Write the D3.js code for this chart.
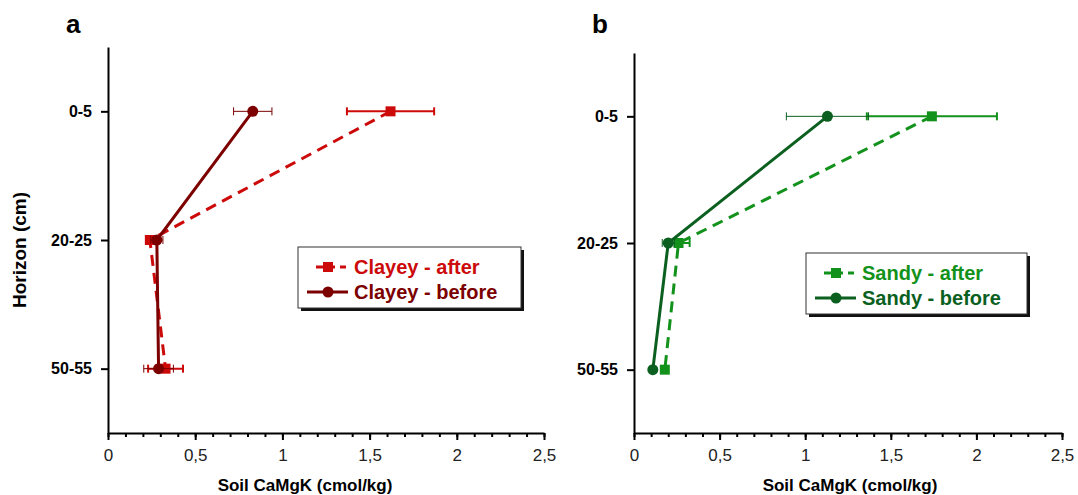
<!DOCTYPE html>
<html>
<head>
<meta charset="utf-8">
<script src="https://cdn.jsdelivr.net/npm/d3@7"></script>
<style>
  body { margin: 0; background: #fff; }
  svg { display: block; font-family: "Liberation Sans", Arial, Helvetica, sans-serif; }
</style>
</head>
<body>
<div id="chart"></div>
<script>
// horizons (depth classes), top to bottom
const horizons = ['0-5', '20-25', '50-55'];
const xTicks = [0, 0.5, 1, 1.5, 2, 2.5];

// panel a - clayey soil
const clayeyAfter = [1.62, 0.24, 0.33];
const clayeyAfterErr = [0.25, 0.02, 0.10];
const clayeyBefore = [0.83, 0.28, 0.29];
const clayeyBeforeErr = [0.11, 0.035, 0.085];

// panel b - sandy soil
const sandyAfter = [1.74, 0.26, 0.18];
const sandyAfterErr = [0.38, 0.065, 0.015];
const sandyBefore = [1.13, 0.20, 0.11];
const sandyBeforeErr = [0.24, 0.035, 0.01];

const panels = [
  {letter: 'a', x0: 108, x1: 544, yTop: 47, yBot: 433, yTitle: true, titleX: 305,
   legend: {x: 298, y: 247, w: 223, h: 61},
   series: [
     {name: 'Clayey - after', values: clayeyAfter, err: clayeyAfterErr, color: '#cc0a0a', dashed: true, marker: 'square'},
     {name: 'Clayey - before', values: clayeyBefore, err: clayeyBeforeErr, color: '#7c0000', dashed: false, marker: 'circle'}
   ]},
  {letter: 'b', x0: 634, x1: 1062, yTop: 53, yBot: 433, yTitle: false, titleX: 850,
   legend: {x: 806, y: 253, w: 221, h: 61},
   series: [
     {name: 'Sandy - after', values: sandyAfter, err: sandyAfterErr, color: '#13921b', dashed: true, marker: 'square'},
     {name: 'Sandy - before', values: sandyBefore, err: sandyBeforeErr, color: '#0b5f1f', dashed: false, marker: 'circle'}
   ]}
];

const svg = d3.select('#chart').append('svg')
  .attr('width', 1078)
  .attr('height', 495);

function drawMarker(g, type, x, y, color) {
  if (type === 'square') {
    g.append('rect')
      .attr('x', x - 5).attr('y', y - 5)
      .attr('width', 10).attr('height', 10)
      .attr('fill', color);
  } else {
    g.append('circle')
      .attr('cx', x).attr('cy', y).attr('r', 5.5)
      .attr('fill', color);
  }
}

panels.forEach(p => {
  const g = svg.append('g');

  const xScale = d3.scaleLinear().domain([0, 2.5]).range([p.x0, p.x1]);
  // categories at 1,2,3 with half a step of space at both ends
  const yScale = d3.scaleLinear().domain([0.5, 3.5]).range([p.yTop, p.yBot]);
  const yPos = i => yScale(i + 1);

  // minor ticks every 0.1
  const minorAxis = d3.axisBottom(xScale)
    .tickValues(d3.range(0, 26).map(d => d / 10))
    .tickSize(4)
    .tickFormat('');
  const minorG = g.append('g')
    .attr('transform', `translate(0,${p.yBot})`)
    .call(minorAxis);
  minorG.select('.domain').remove();
  minorG.selectAll('line').attr('stroke', '#000').attr('stroke-width', 2);

  // major ticks with labels
  const xAxis = d3.axisBottom(xScale)
    .tickValues(xTicks)
    .tickSize(7)
    .tickSizeOuter(0)
    .tickPadding(9)
    .tickFormat(d => d3.format('')(d).replace('.', ','));
  const xAxisG = g.append('g')
    .attr('transform', `translate(0,${p.yBot})`)
    .call(xAxis);
  xAxisG.select('.domain').attr('stroke', '#000').attr('stroke-width', 2);
  xAxisG.selectAll('line').attr('stroke', '#000').attr('stroke-width', 2);
  xAxisG.selectAll('text')
    .attr('fill', '#222')
    .style('font-size', '17px')
    .style('font-family', '"Liberation Sans", Arial, sans-serif');

  // y axis with horizon labels
  const yAxis = d3.axisLeft(yScale)
    .tickValues([1, 2, 3])
    .tickSize(7)
    .tickSizeOuter(0)
    .tickPadding(9)
    .tickFormat(d => horizons[d - 1]);
  const yAxisG = g.append('g')
    .attr('transform', `translate(${p.x0},0)`)
    .call(yAxis);
  yAxisG.select('.domain').attr('stroke', '#000').attr('stroke-width', 2);
  yAxisG.selectAll('line').attr('stroke', '#000').attr('stroke-width', 2);
  yAxisG.selectAll('text')
    .attr('fill', '#000')
    .style('font-size', '16px')
    .style('font-weight', 'bold')
    .style('font-family', '"Liberation Sans", Arial, sans-serif');

  // axis titles
  g.append('text')
    .attr('x', p.titleX)
    .attr('y', 491)
    .attr('text-anchor', 'middle')
    .style('font-size', '17px')
    .style('font-weight', 'bold')
    .text('Soil CaMgK (cmol/kg)');

  if (p.yTitle) {
    g.append('text')
      .attr('transform', `translate(26,250) rotate(-90)`)
      .attr('text-anchor', 'middle')
      .style('font-size', '19px')
      .style('font-weight', 'bold')
      .text('Horizon (cm)');
  }

  // panel letter
  g.append('text')
    .attr('x', p.x0 - 42)
    .attr('y', 33)
    .style('font-size', '26px')
    .style('font-weight', 'bold')
    .text(p.letter);

  // series: after first, before on top
  p.series.forEach(s => {
    const pts = s.values.map((v, i) => ({x: v, i: i}));
    const sg = g.append('g');

    // error bars
    pts.forEach((d, i) => {
      const e = s.err[i];
      const y = yPos(d.i);
      const lw = s.dashed ? 2 : 1;
      sg.append('line')
        .attr('x1', xScale(d.x - e)).attr('x2', xScale(d.x + e))
        .attr('y1', y).attr('y2', y)
        .attr('stroke', s.color).attr('stroke-width', lw);
      [d.x - e, d.x + e].forEach(v => {
        sg.append('line')
          .attr('x1', xScale(v)).attr('x2', xScale(v))
          .attr('y1', y - 4).attr('y2', y + 4)
          .attr('stroke', s.color).attr('stroke-width', lw);
      });
    });

    sg.append('path')
      .datum(pts)
      .attr('fill', 'none')
      .attr('stroke', s.color)
      .attr('stroke-width', 3)
      .attr('stroke-dasharray', s.dashed ? '11,7' : null)
      .attr('d', d3.line()
        .x(d => xScale(d.x))
        .y(d => yPos(d.i)));

    pts.forEach(d => drawMarker(sg, s.marker, xScale(d.x), yPos(d.i), s.color));
  });

  // legend box with shadow
  const L = p.legend;
  const lg = g.append('g').attr('transform', `translate(${L.x},${L.y})`);
  lg.append('rect')
    .attr('x', 3).attr('y', 3)
    .attr('width', L.w).attr('height', L.h)
    .attr('fill', '#111');
  lg.append('rect')
    .attr('x', 0).attr('y', 0)
    .attr('width', L.w).attr('height', L.h)
    .attr('fill', '#fff')
    .attr('stroke', '#333').attr('stroke-width', 1);

  p.series.forEach((s, k) => {
    const cy = 20 + k * 25;
    const mx = 30;
    if (s.dashed) {
      lg.append('line')
        .attr('x1', 18).attr('x2', 48).attr('y1', cy).attr('y2', cy)
        .attr('stroke', s.color).attr('stroke-width', 3)
        .attr('stroke-dasharray', '7,5');
    } else {
      lg.append('line')
        .attr('x1', 9).attr('x2', 50).attr('y1', cy).attr('y2', cy)
        .attr('stroke', s.color).attr('stroke-width', 3);
    }
    drawMarker(lg, s.marker, mx, cy, s.color);
    lg.append('text')
      .attr('x', 56).attr('y', cy + 7)
      .attr('fill', s.color)
      .style('font-size', '20px')
      .style('font-weight', 'bold')
      .text(s.name);
  });
});
</script>
</body>
</html>
